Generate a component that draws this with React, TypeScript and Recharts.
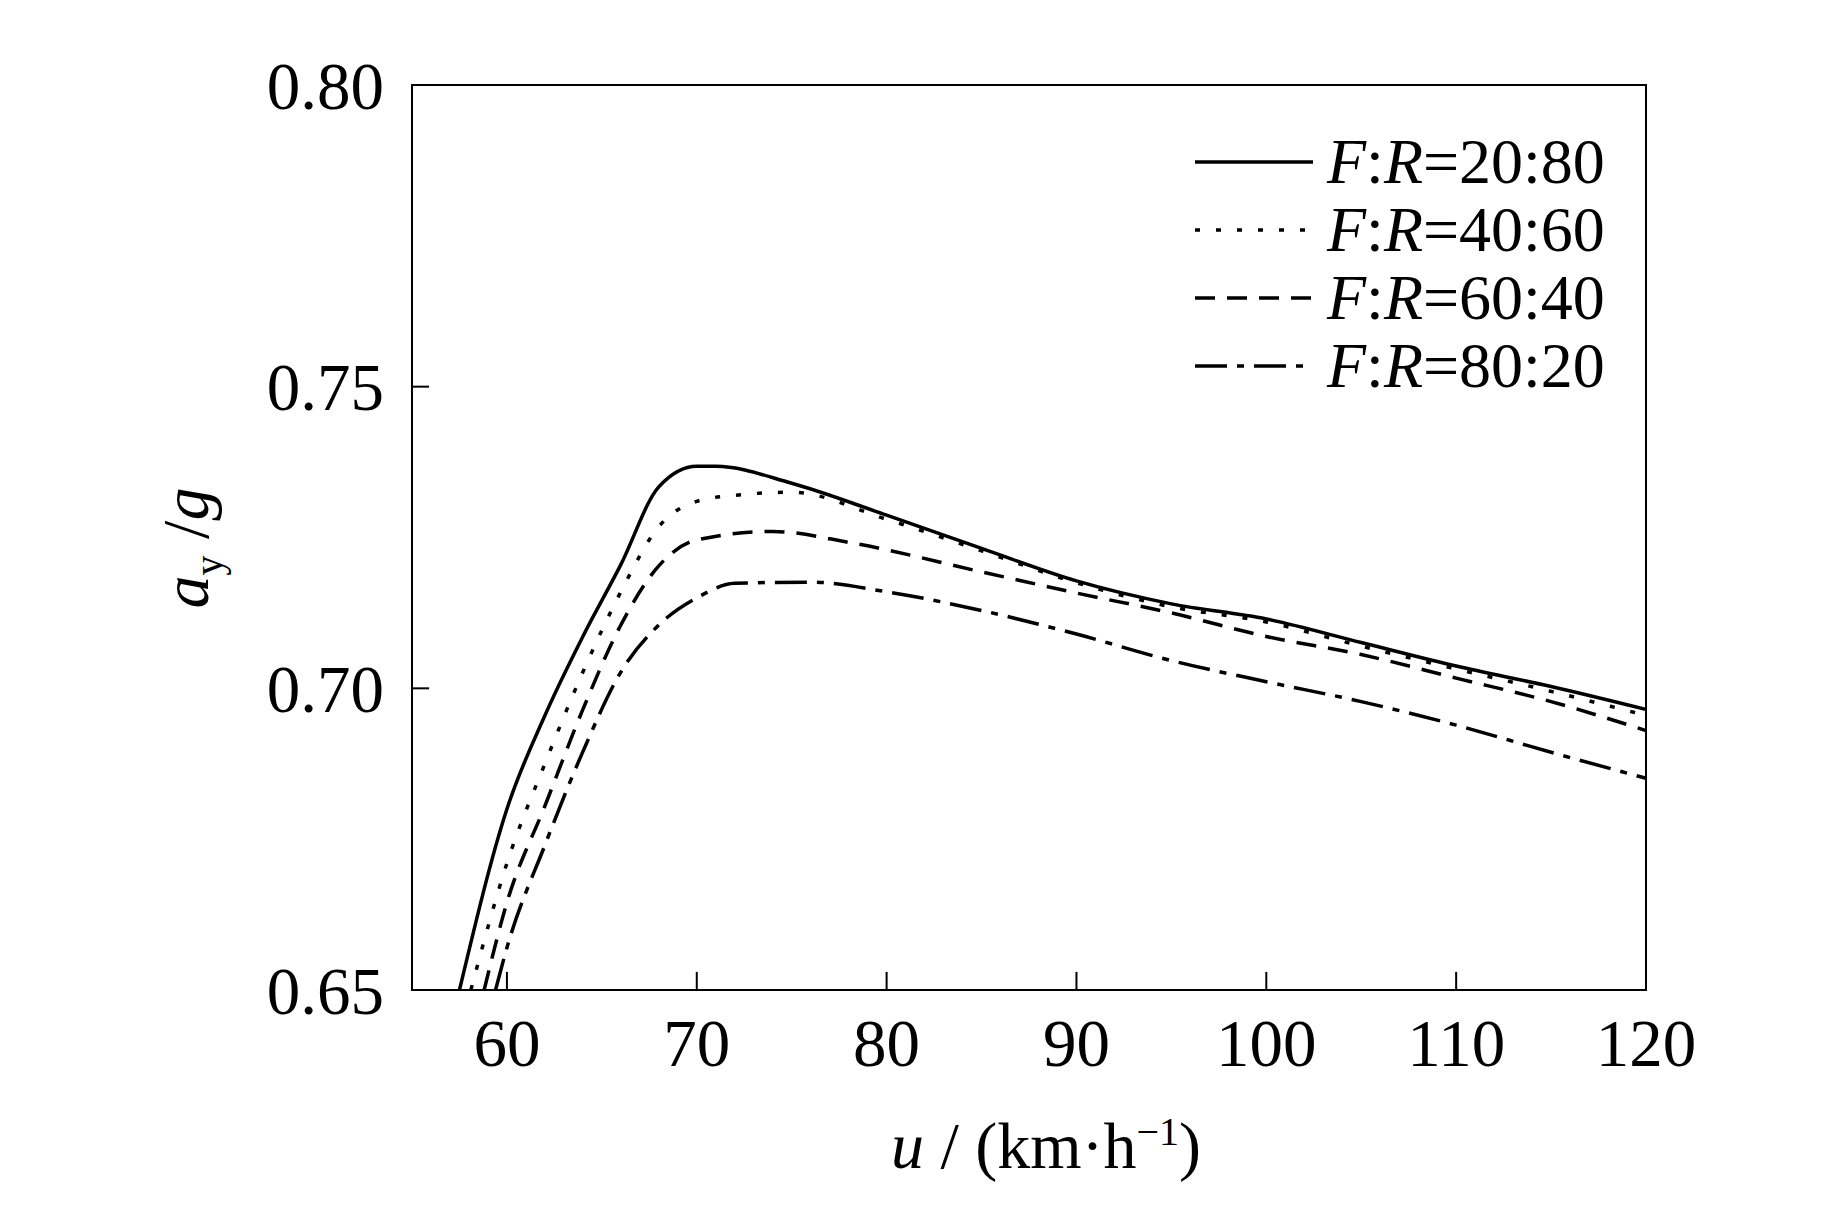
import React from 'react';
import { LineChart, Line, XAxis, YAxis, ReferenceArea, ReferenceLine } from 'recharts';

const xTicks = [60, 70, 80, 90, 100, 110, 120];
const yTicks = [0.65, 0.7, 0.75, 0.8];

const fr2080 = [
  { u: 57.5, a: 0.65 }, { u: 60, a: 0.68 }, { u: 62, a: 0.6955 }, { u: 64, a: 0.7086 },
  { u: 66, a: 0.7205 }, { u: 68, a: 0.7334 }, { u: 70, a: 0.7368 }, { u: 71, a: 0.7368 },
  { u: 75, a: 0.734 }, { u: 80, a: 0.7287 }, { u: 85, a: 0.7232 }, { u: 90, a: 0.7178 },
  { u: 95, a: 0.714 }, { u: 100, a: 0.7115 }, { u: 105, a: 0.7076 }, { u: 110, a: 0.7037 },
  { u: 115, a: 0.7003 }, { u: 120, a: 0.6965 },
];
const fr4060 = [
  { u: 58.1, a: 0.65 }, { u: 60, a: 0.671 }, { u: 62, a: 0.6875 }, { u: 64, a: 0.7027 },
  { u: 66, a: 0.716 }, { u: 68, a: 0.7268 }, { u: 70, a: 0.731 }, { u: 72, a: 0.732 },
  { u: 75, a: 0.7325 }, { u: 80, a: 0.728 }, { u: 85, a: 0.7228 }, { u: 90, a: 0.7175 },
  { u: 95, a: 0.7135 }, { u: 100, a: 0.711 }, { u: 105, a: 0.707 }, { u: 110, a: 0.7032 },
  { u: 115, a: 0.6995 }, { u: 120, a: 0.6955 },
];
const fr6040 = [
  { u: 58.8, a: 0.65 }, { u: 60, a: 0.6645 }, { u: 62, a: 0.6805 }, { u: 64, a: 0.6965 },
  { u: 66, a: 0.7105 }, { u: 68, a: 0.7203 }, { u: 70, a: 0.7246 }, { u: 74, a: 0.726 },
  { u: 78, a: 0.7242 }, { u: 85, a: 0.7193 }, { u: 90, a: 0.7158 }, { u: 95, a: 0.7125 },
  { u: 100, a: 0.7086 }, { u: 105, a: 0.7056 }, { u: 110, a: 0.7017 }, { u: 115, a: 0.6978 },
  { u: 120, a: 0.693 },
];
const fr8020 = [
  { u: 59.4, a: 0.65 }, { u: 60, a: 0.657 }, { u: 62, a: 0.674 }, { u: 64, a: 0.6895 },
  { u: 66, a: 0.7027 }, { u: 68, a: 0.7105 }, { u: 70, a: 0.715 }, { u: 72, a: 0.7174 },
  { u: 76, a: 0.7176 }, { u: 80, a: 0.716 }, { u: 85, a: 0.7129 }, { u: 90, a: 0.709 },
  { u: 95, a: 0.7046 }, { u: 100, a: 0.7011 }, { u: 105, a: 0.6978 }, { u: 110, a: 0.6939 },
  { u: 115, a: 0.6894 }, { u: 120, a: 0.6851 },
];

const series = [
  { label: '20:80', data: fr2080, dash: undefined },
  { label: '40:60', data: fr4060, dash: '5 16' },
  { label: '60:40', data: fr6040, dash: '20 12' },
  { label: '80:20', data: fr8020, dash: '32 10 7 10' },
];

const font = '"Liberation Serif", "Times New Roman", serif';
const tick = { fontSize: 67, fill: '#000', fontFamily: font };

export default function App() {
  return (
    <div style={{ position: 'relative', width: 1827, height: 1190, background: '#fff', fontFamily: font }}>
      <LineChart width={1800} height={1180} margin={{ top: 77, right: 162, left: 254, bottom: 98 }}>
        <XAxis
          type="number"
          dataKey="u"
          domain={[55, 120]}
          ticks={xTicks}
          allowDuplicatedCategory={false}
          stroke="#000"
          strokeWidth={2}
          tickLine={false}
          tickMargin={22}
          height={100}
          tick={tick}
        />
        <YAxis
          type="number"
          dataKey="a"
          domain={[0.65, 0.8]}
          ticks={yTicks}
          tickFormatter={(v: number) => v.toFixed(2)}
          stroke="#000"
          strokeWidth={2}
          tickLine={false}
          tickMargin={22}
          width={150}
          tick={tick}
        />
        <ReferenceArea x1={55} x2={120} y1={0.65} y2={0.8} fill="none" stroke="#000" strokeWidth={2} ifOverflow="visible" />
        {xTicks.map((t) => (
          <ReferenceLine key={`x${t}`} segment={[{ x: t, y: 0.65 }, { x: t, y: 0.653 }]} stroke="#000" strokeWidth={2} />
        ))}
        {yTicks.map((t) => (
          <ReferenceLine key={`y${t}`} segment={[{ x: 55, y: t }, { x: 55.9, y: t }]} stroke="#000" strokeWidth={2} />
        ))}
        {series.map((s) => (
          <Line
            key={s.label}
            data={s.data}
            dataKey="a"
            type="monotone"
            stroke="#000"
            strokeWidth={3.5}
            strokeDasharray={s.dash}
            dot={false}
            isAnimationActive={false}
          />
        ))}
      </LineChart>
      <div style={{ position: 'absolute', left: 1187, top: 120 }}>
        {series.map((s) => (
          <div key={s.label} style={{ display: 'flex', alignItems: 'center', height: 68 }}>
            <svg width={118} height={10}>
              <line x1={0} y1={5} x2={118} y2={5} stroke="#000" strokeWidth={3.5} strokeDasharray={s.dash} />
            </svg>
            <span style={{ fontSize: 64, marginLeft: 14, lineHeight: 1 }}>
              <i>F</i>:<i>R</i>={s.label}
            </span>
          </div>
        ))}
      </div>
      <div
        style={{
          position: 'absolute', left: 182, top: 540, fontSize: 66, whiteSpace: 'nowrap',
          transform: 'translate(-50%, -50%) rotate(-90deg)',
        }}
      >
        <i>a</i><sub style={{ fontSize: 40 }}>y</sub> /<i>g</i>
      </div>
      <div
        style={{
          position: 'absolute', left: 1038, top: 1138, fontSize: 66, whiteSpace: 'nowrap',
          transform: 'translate(-50%, -50%)',
        }}
      >
        <i>u</i> / (km·h<sup style={{ fontSize: 40 }}>−1</sup>)
      </div>
    </div>
  );
}
